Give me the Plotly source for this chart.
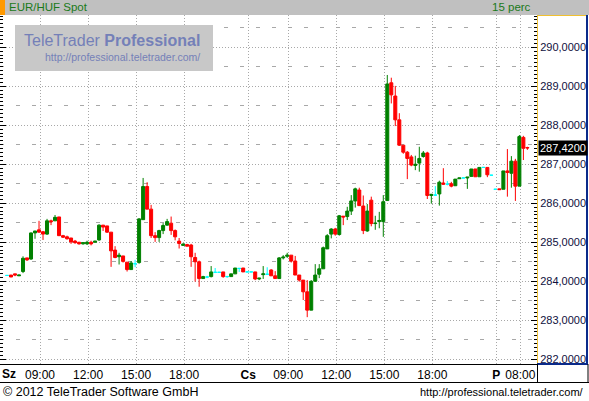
import plotly.graph_objects as go

# ---------------- data (15-minute candles, EUR/HUF) ----------------
opens = [284.15, 284.16, 284.19, 284.14, 284.25, 284.60, 284.57, 285.24, 285.32, 285.27,
         285.21, 285.55, 285.55, 285.65, 285.17, 285.14, 285.11, 285.03, 285.00, 284.96,
         284.96, 285.00, 285.00, 285.06, 285.44, 285.42, 285.26, 284.80, 284.63, 284.65,
         284.49, 284.30, 284.45, 284.48, 285.58, 286.43, 285.85, 285.17, 285.12, 285.30,
         285.44, 285.49, 285.30, 285.03, 284.92, 284.94, 284.93, 284.61, 284.50, 284.07,
         284.11, 284.12, 284.23, 284.23, 284.24, 284.12, 284.12, 284.19, 284.33, 284.34,
         284.24, 284.24, 284.24, 284.06, 284.17, 284.18, 284.29, 284.14, 284.07, 284.60,
         284.64, 284.67, 284.52, 284.16, 284.03, 283.73, 283.26, 284.00, 284.18, 284.32,
         284.83, 285.21, 285.34, 285.20, 285.67, 285.66, 285.80, 286.06, 286.34, 285.93,
         285.29, 286.08, 285.48, 285.53, 285.53, 286.07, 289.09, 288.75, 288.14, 287.49,
         287.31, 287.19, 286.97, 287.03, 287.20, 287.29, 286.20, 286.21, 286.24, 286.52,
         286.49, 286.50, 286.45, 286.63, 286.65, 286.65, 286.69, 286.88, 286.68, 286.92,
         286.92, 286.72, 286.36, 286.37, 286.36, 286.83, 286.77, 287.08, 286.44, 287.69,
         287.43]
highs = [284.15, 284.16, 284.19, 284.16, 284.64, 284.60, 285.25, 285.29, 285.55, 285.29,
         285.60, 285.58, 285.70, 285.65, 285.19, 285.17, 285.11, 285.06, 285.01, 285.00,
         285.04, 285.04, 285.03, 285.46, 285.44, 285.42, 285.26, 284.90, 284.73, 284.65,
         284.49, 284.52, 284.55, 285.62, 286.65, 286.54, 285.96, 285.26, 285.32, 285.49,
         285.60, 285.66, 285.33, 285.11, 284.98, 284.96, 284.96, 284.73, 284.53, 284.14,
         284.14, 284.39, 284.34, 284.23, 284.24, 284.14, 284.19, 284.34, 284.33, 284.34,
         284.24, 284.24, 284.24, 284.08, 284.39, 284.36, 284.31, 284.26, 284.62, 284.67,
         284.73, 284.67, 284.65, 284.16, 284.03, 284.03, 284.03, 284.44, 284.44, 284.89,
         285.21, 285.36, 285.37, 285.70, 285.67, 285.91, 286.21, 286.40, 286.40, 286.20,
         285.98, 286.17, 285.68, 285.78, 286.21, 289.29, 289.22, 289.01, 288.31, 287.49,
         287.34, 287.24, 287.22, 287.45, 287.34, 287.32, 286.24, 286.44, 286.58, 286.90,
         286.57, 286.55, 286.62, 286.65, 286.65, 286.67, 286.88, 286.88, 286.92, 286.92,
         286.92, 286.72, 286.36, 286.37, 286.83, 287.39, 287.21, 287.14, 287.75, 287.73,
         287.45]
lows = [284.15, 284.11, 284.13, 284.14, 284.21, 284.52, 284.55, 285.09, 285.25, 285.06,
        285.19, 285.44, 285.55, 285.16, 285.11, 285.07, 284.96, 284.96, 284.94, 284.94,
        284.93, 284.92, 284.99, 285.04, 285.29, 285.24, 284.37, 284.59, 284.43, 284.48,
        284.25, 284.30, 284.36, 284.45, 285.58, 285.85, 285.11, 285.01, 285.01, 285.21,
        285.43, 285.19, 285.05, 284.84, 284.92, 284.90, 284.37, 283.99, 283.86, 284.07,
        284.08, 284.10, 284.21, 284.23, 284.09, 284.09, 284.12, 284.19, 284.24, 284.24,
        284.24, 284.24, 284.03, 284.03, 284.06, 284.16, 284.14, 284.07, 284.07, 284.56,
        284.60, 284.48, 284.16, 283.99, 283.52, 283.08, 283.26, 283.99, 284.08, 284.32,
        284.83, 285.10, 285.17, 285.17, 285.44, 285.57, 285.70, 285.89, 285.94, 285.21,
        285.27, 285.41, 285.32, 285.36, 285.14, 286.07, 288.56, 287.98, 287.47, 287.27,
        286.62, 286.95, 286.85, 286.81, 287.17, 286.11, 285.99, 286.19, 285.94, 286.47,
        286.46, 286.41, 286.45, 286.63, 286.65, 286.37, 286.69, 286.68, 286.68, 286.92,
        286.67, 286.72, 286.36, 286.35, 286.36, 286.17, 286.40, 286.06, 286.44, 287.11,
        287.37]
closes = [284.15, 284.11, 284.16, 284.16, 284.59, 284.55, 285.24, 285.29, 285.26, 285.21,
          285.55, 285.53, 285.64, 285.17, 285.13, 285.09, 285.01, 284.99, 284.96, 284.99,
          285.00, 284.96, 285.03, 285.44, 285.39, 285.26, 284.78, 284.61, 284.67, 284.51,
          284.30, 284.47, 284.45, 285.60, 286.43, 285.85, 285.17, 285.12, 285.30, 285.43,
          285.53, 285.30, 285.14, 284.97, 284.95, 284.90, 284.63, 284.50, 284.07, 284.12,
          284.11, 284.24, 284.23, 284.23, 284.12, 284.12, 284.19, 284.34, 284.33, 284.24,
          284.24, 284.24, 284.06, 284.08, 284.19, 284.18, 284.14, 284.07, 284.60, 284.62,
          284.67, 284.52, 284.16, 284.03, 283.73, 283.26, 284.00, 284.16, 284.32, 284.86,
          285.17, 285.34, 285.21, 285.68, 285.65, 285.80, 286.06, 286.37, 285.94, 285.30,
          285.80, 285.48, 285.49, 285.56, 286.04, 289.06, 288.78, 288.14, 287.49, 287.31,
          287.15, 286.98, 287.00, 287.15, 287.29, 286.20, 286.23, 286.21, 286.54, 286.49,
          286.49, 286.44, 286.62, 286.65, 286.65, 286.67, 286.88, 286.68, 286.92, 286.92,
          286.73, 286.72, 286.36, 286.35, 286.83, 286.79, 287.08, 286.44, 287.71, 287.41,
          287.42]
candle_idx = list(range(len(closes)))

# x-axis (time) ticks: positions in candle units, labels
tick_pos = [8.25, 20.25, 32.25, 44.25, 60.25, 70.25, 82.25, 94.25, 106.25, 122.25, 128.25]
tick_text = ["09:00", "12:00", "15:00", "18:00", "<b>Cs</b>", "09:00", "12:00", "15:00",
             "18:00", "<b>P</b>", "08:00"]
first_day_label = "<b>Sz</b>"
y_range = [281.879, 290.828]
x_range = [-1.75, 132.4]

# ---------------- figure ----------------
FONT = "Liberation Sans, Arial, sans-serif"
UP, DOWN, FLAT = "#008000", "#ff0000", "#00ffff"

def subset(cond):
    sel = [i for i in candle_idx if cond(opens[i], closes[i])]
    return (sel, [opens[i] for i in sel], [highs[i] for i in sel],
            [lows[i] for i in sel], [closes[i] for i in sel])

fig = go.Figure()
for cond, col in [(lambda o, c: c > o, UP), (lambda o, c: c < o, DOWN), (lambda o, c: c == o, FLAT)]:
    xs, o, h, l, c = subset(cond)
    fig.add_trace(go.Candlestick(
        x=xs, open=o, high=h, low=l, close=c,
        increasing=dict(line=dict(color=col, width=1), fillcolor=col),
        decreasing=dict(line=dict(color=col, width=1), fillcolor=col),
        whiskerwidth=0, hoverinfo="skip", showlegend=False))

# helper trace for the half-unit dashed grid axis
fig.add_trace(go.Scatter(x=[None], y=[None], yaxis="y2", showlegend=False, hoverinfo="skip"))

W, H = 589, 401
L, R, T, B = 0, 52, 15, 37
PW, PH = W - L - R, H - T - B

def px(x):
    return (x - L) / PW

def py(y):
    return (H - B - y) / PH

shapes = [
    # header bar
    dict(type="rect", xref="paper", yref="paper", x0=px(0), x1=px(589), y0=py(15), y1=py(0),
         fillcolor="#c0c0c0", line=dict(width=0), layer="above"),
    dict(type="rect", xref="paper", yref="paper", x0=px(0), x1=px(5), y0=py(15), y1=py(0),
         fillcolor="#ff9900", line=dict(width=0), layer="above"),
    # watermark box
    dict(type="rect", xref="paper", yref="paper", x0=px(15), x1=px(213), y0=py(71), y1=py(25),
         fillcolor="#c8c8c8", line=dict(width=0), layer="above"),
    # right panel borders
    dict(type="line", xref="paper", yref="paper", x0=px(537.5), x1=px(537.5), y0=py(15), y1=py(364),
         line=dict(color="#f0c030", width=1), layer="above"),
    dict(type="line", xref="paper", yref="paper", x0=px(537), x1=px(587), y0=py(15.5), y1=py(15.5),
         line=dict(color="#f0c030", width=1), layer="above"),
    dict(type="line", xref="paper", yref="paper", x0=px(587), x1=px(587), y0=py(15), y1=py(364),
         line=dict(color="#0a2a8a", width=2), layer="above"),
    dict(type="line", xref="paper", yref="paper", x0=px(537), x1=px(588), y0=py(364), y1=py(364),
         line=dict(color="#0a2a8a", width=2), layer="above"),
    # bottom axis bar
    dict(type="line", xref="paper", yref="paper", x0=px(0), x1=px(589), y0=py(382.5), y1=py(382.5),
         line=dict(color="black", width=1), layer="above"),
    dict(type="line", xref="paper", yref="paper", x0=px(537.5), x1=px(537.5), y0=py(364), y1=py(382.5),
         line=dict(color="black", width=1), layer="above"),
    dict(type="line", xref="paper", yref="paper", x0=px(588), x1=px(588), y0=py(364), y1=py(382.5),
         line=dict(color="black", width=1), layer="above"),
]

last = closes[-1]
annotations = [
    dict(text="EUR/HUF Spot", xref="paper", yref="paper", x=px(7), y=py(7.5), xanchor="left",
         yanchor="middle", showarrow=False, font=dict(family=FONT, size=11.5, color="#1a7a1a")),
    dict(text="15 perc", xref="paper", yref="paper", x=px(533), y=py(7.5), xanchor="right",
         yanchor="middle", showarrow=False, font=dict(family=FONT, size=11.5, color="#1a7a1a")),
    dict(text="TeleTrader <b>Professional</b>", xref="paper", yref="paper", x=px(112), y=py(41),
         xanchor="center", yanchor="middle", showarrow=False,
         font=dict(family=FONT, size=16, color="#7480b8")),
    dict(text="http://professional.teletrader.com/", xref="paper", yref="paper", x=px(122), y=py(57),
         xanchor="center", yanchor="middle", showarrow=False,
         font=dict(family=FONT, size=10.5, color="#7480b8")),
    dict(text=first_day_label, xref="x", yref="paper", x=0.55, y=py(374), xanchor="center",
         yanchor="middle", showarrow=False, font=dict(family=FONT, size=12, color="black")),
    dict(text="© 2012 TeleTrader Software GmbH", xref="paper", yref="paper", x=px(1), y=py(392),
         xanchor="left", yanchor="middle", showarrow=False,
         font=dict(family=FONT, size=12.5, color="black")),
    dict(text="http://professional.teletrader.com/", xref="paper", yref="paper", x=px(586), y=py(392),
         xanchor="right", yanchor="middle", showarrow=False,
         font=dict(family=FONT, size=11, color="black")),
    dict(text=f"{last:.4f}".replace(".", ","), xref="paper", yref="y", x=px(538), y=last,
         xanchor="left", yanchor="middle", showarrow=False, bgcolor="black", borderpad=1,
         font=dict(family=FONT, size=11, color="white")),
]

GRID = "#a8a8a8"
fig.update_layout(
    width=W, height=H, margin=dict(l=L, r=R, t=T, b=B, pad=0),
    paper_bgcolor="white", plot_bgcolor="white", showlegend=False,
    separators=",.",
    boxgap=0.25, boxgroupgap=0,
    xaxis=dict(range=x_range, tickmode="array", tickvals=tick_pos, ticktext=tick_text,
               showgrid=True, gridcolor=GRID, griddash="1px,2px", gridwidth=1,
               ticks="", zeroline=False, showline=True, linecolor="black", linewidth=1,
               tickfont=dict(family=FONT, size=12, color="black"),
               rangeslider=dict(visible=False), fixedrange=True),
    yaxis=dict(range=y_range, side="right", tick0=0, dtick=1, tickformat=".4f",
               showgrid=True, gridcolor=GRID, griddash="1px,2px", gridwidth=1,
               ticks="inside", ticklen=6, tickcolor="black", tickwidth=1, mirror="allticks",
               showline=True, linecolor="#f0c030", linewidth=1, zeroline=False,
               minor=dict(dtick=0.1, tick0=0, ticks="inside", ticklen=3, tickcolor="black",
                          showgrid=False),
               tickfont=dict(family=FONT, size=11, color="#101040"), fixedrange=True),
    yaxis2=dict(range=y_range, overlaying="y", anchor="x", side="left", tick0=0.5, dtick=1,
                showgrid=True, gridcolor=GRID, griddash="4px,12px", gridwidth=1,
                showticklabels=False, ticks="", showline=False, zeroline=False, fixedrange=True),
    shapes=shapes, annotations=annotations,
)

fig.write_html("out.html", config={"displayModeBar": False, "staticPlot": True},
               post_script="document.body.style.margin='0px';")
